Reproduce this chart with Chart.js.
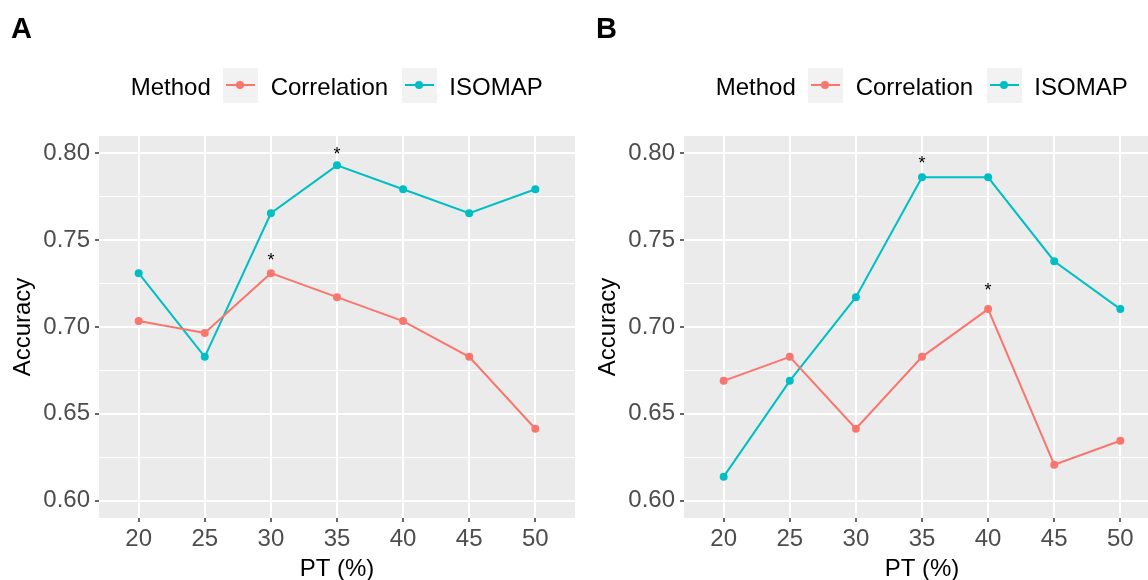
<!DOCTYPE html>
<html>
<head>
<meta charset="utf-8">
<title>Accuracy vs PT</title>
<script src="https://cdn.jsdelivr.net/npm/chart.js@4.4.1/dist/chart.umd.min.js"></script>
<style>
    body {
        margin: 0;
        width: 1148px;
        height: 580px;
        overflow: hidden;
        position: relative;
        background: #fff;
        font-family: "Liberation Sans", Arial, sans-serif;
    }
    .panel {
        position: absolute;
        top: 0;
        width: 600px;
        height: 600px;
    }
    .tag {
        position: absolute;
        top: 14px;
        font-size: 29px;
        line-height: 29px;
        font-weight: bold;
        color: #000;
    }
    .lg-text {
        position: absolute;
        top: 69px;
        font-size: 24px;
        line-height: 35px;
        color: #000;
        white-space: nowrap;
    }
    .lg-key {
        position: absolute;
        top: 68px;
        width: 35px;
        height: 35px;
        background: #f2f2f2;
    }
    .lg-key .ln {
        position: absolute;
        left: 3px;
        right: 3px;
        top: 16px;
        height: 2px;
    }
    .lg-key .dot {
        position: absolute;
        left: 13px;
        top: 13px;
        width: 8px;
        height: 8px;
        border-radius: 50%;
    }
</style>
</head>
<body>

<div class="panel" style="left:0"><canvas id="chartA" width="600" height="600"></canvas></div>
<div class="panel" style="left:585px"><canvas id="chartB" width="600" height="600"></canvas></div>

<div id="overlay"></div>

<script>
// ---- data ----
const ptValues = [20, 25, 30, 35, 40, 45, 50];
const corrA = [0.7034, 0.6966, 0.7310, 0.7172, 0.7034, 0.6828, 0.6414];
const isoA  = [0.7310, 0.6828, 0.7655, 0.7931, 0.7793, 0.7655, 0.7793];
const corrB = [0.6690, 0.6828, 0.6414, 0.6828, 0.7103, 0.6207, 0.6345];
const isoB  = [0.6138, 0.6690, 0.7172, 0.7862, 0.7862, 0.7379, 0.7103];

const yMajor = [0.60, 0.65, 0.70, 0.75, 0.80];
const yMinor = [0.625, 0.675, 0.725, 0.775];

// significance stars (x, label height)
const starXA = [30, 35];
const starYA = [0.7412, 0.8021];
const starXB = [35, 40];
const starYB = [0.7969, 0.7238];

const methods = ['Correlation', 'ISOMAP'];
const colors = ['#F8766D', '#00BFC4'];
const panels = ['A', 'B'];

Chart.defaults.font.family = '"Liberation Sans", Arial, sans-serif';
Chart.defaults.animation = false;

/**
 * grey panel background, drawn before the grid
 */
const panelBg = {
    id: 'panelBg',
    beforeDraw(chart) {
        const { ctx, chartArea } = chart;
        ctx.save();
        ctx.fillStyle = '#EBEBEB';
        ctx.fillRect(chartArea.left, chartArea.top, chartArea.right - chartArea.left, chartArea.bottom - chartArea.top);
        ctx.restore();
    }
};

/**
 * asterisks above significant points
 */
const starLabels = {
    id: 'starLabels',
    afterDatasetsDraw(chart, args, opts) {
        const { ctx, scales } = chart;
        ctx.save();
        ctx.font = '18px "Liberation Sans", Arial, sans-serif';
        ctx.fillStyle = '#000';
        ctx.textAlign = 'center';
        ctx.textBaseline = 'alphabetic';
        opts.xs.forEach((x, i) => {
            const px = scales.x.getPixelForValue(x);
            const py = scales.y.getPixelForValue(opts.ys[i]);
            ctx.fillText('*', px, py + 10.5);
        });
        ctx.restore();
    }
};

function isMajor(v) {
    return yMajor.some(m => Math.abs(m - v) < 1e-6);
}

function makePanel(canvasId, corr, iso, starX, starY) {
    const series = [corr, iso];
    return new Chart(document.getElementById(canvasId), {
        type: 'line',
        data: {
            datasets: methods.map((m, i) => ({
                label: m,
                data: ptValues.map((x, j) => ({ x: x, y: series[i][j] })),
                borderColor: colors[i],
                backgroundColor: colors[i],
                pointBackgroundColor: colors[i],
                borderWidth: 2,
                pointRadius: 4,
                pointBorderWidth: 0,
                tension: 0,
                fill: false
            }))
        },
        options: {
            responsive: false,
            maintainAspectRatio: false,
            layout: {
                autoPadding: false,
                padding: { left: 0, top: 136, right: 25, bottom: 0 }
            },
            plugins: {
                legend: { display: false },
                tooltip: { enabled: false },
                starLabels: { xs: starX, ys: starY }
            },
            scales: {
                x: {
                    type: 'linear',
                    min: 17,
                    max: 53,
                    afterBuildTicks: scale => {
                        scale.ticks = ptValues.map(v => ({ value: v }));
                    },
                    afterFit: scale => { scale.height = 82; },
                    border: { display: false },
                    grid: {
                        color: '#FFFFFF',
                        lineWidth: 2,
                        drawTicks: true,
                        tickLength: 4,
                        tickColor: '#333333',
                        tickWidth: 1.5
                    },
                    ticks: {
                        color: '#4D4D4D',
                        font: { size: 24 },
                        padding: 3,
                        maxRotation: 0,
                        callback: v => String(v)
                    },
                    title: {
                        display: true,
                        text: 'PT (%)',
                        color: '#000',
                        font: { size: 24 },
                        padding: { top: 0, bottom: 16.6 }
                    }
                },
                y: {
                    type: 'linear',
                    min: 0.59,
                    max: 0.81,
                    afterBuildTicks: scale => {
                        scale.ticks = yMajor.concat(yMinor).sort((a, b) => a - b).map(v => ({ value: v }));
                    },
                    afterFit: scale => { scale.width = 99; },
                    border: { display: false },
                    grid: {
                        color: '#FFFFFF',
                        lineWidth: ctx => isMajor(ctx.tick.value) ? 2 : 1,
                        drawTicks: true,
                        tickLength: 4,
                        tickColor: ctx => isMajor(ctx.tick.value) ? '#333333' : 'rgba(0,0,0,0)',
                        tickWidth: 1.5
                    },
                    ticks: {
                        color: '#4D4D4D',
                        font: { size: 24 },
                        padding: 5,
                        callback: v => isMajor(v) ? v.toFixed(2) : ''
                    },
                    title: {
                        display: true,
                        text: 'Accuracy',
                        color: '#000',
                        font: { size: 24 },
                        padding: { top: 8.6, bottom: 0 }
                    }
                }
            }
        },
        plugins: [panelBg, starLabels]
    });
}

const chartA = makePanel('chartA', corrA, isoA, starXA, starYA);
const chartB = makePanel('chartB', corrB, isoB, starXB, starYB);

// panel tags and legends as html
const overlay = document.getElementById('overlay');
panels.forEach((p, k) => {
    const dx = k * 585;
    let html = '<div class="tag" style="left:' + (11 + dx) + 'px">' + p + '</div>';
    html += '<div class="lg-text" style="left:' + (130.7 + dx) + 'px">Method</div>';
    const keyX = [222.7, 401.7];
    const textX = [270.7, 449.3];
    methods.forEach((m, i) => {
        html += '<div class="lg-key" style="left:' + (keyX[i] + dx) + 'px">' +
            '<div class="ln" style="background:' + colors[i] + '"></div>' +
            '<div class="dot" style="background:' + colors[i] + '"></div></div>';
        html += '<div class="lg-text" style="left:' + (textX[i] + dx) + 'px">' + m + '</div>';
    });
    overlay.insertAdjacentHTML('beforeend', html);
});
</script>
</body>
</html>
